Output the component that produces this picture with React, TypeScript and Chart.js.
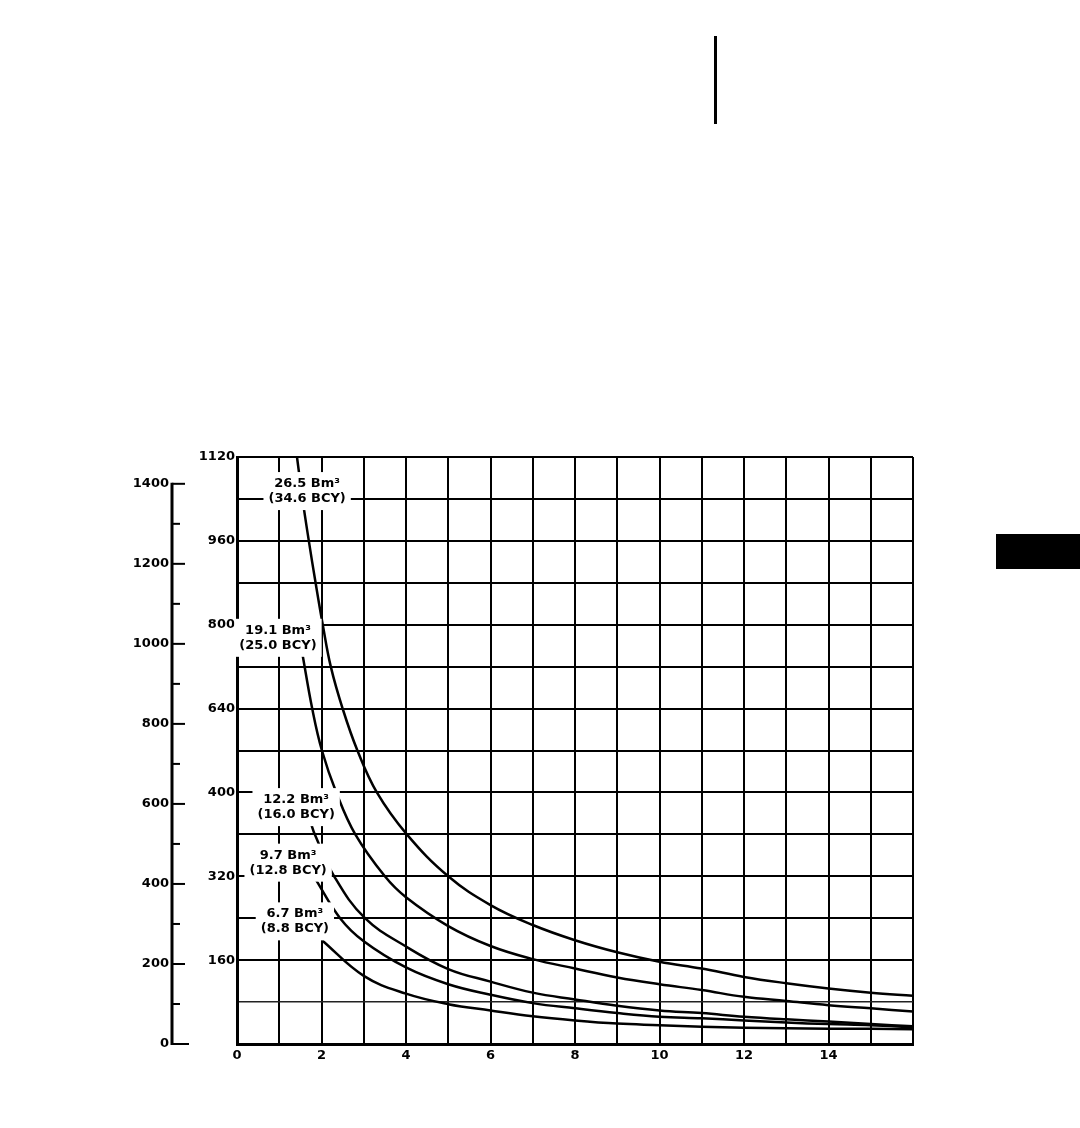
import React, { useEffect, useRef } from "react";
import { Chart, registerables } from "chart.js";

Chart.register(...registerables);

// ---- data ----
const curveAX = [1.42, 1.55, 1.7, 1.86, 2.03, 2.22, 2.5, 2.85, 3.31, 4.02, 5.0, 6, 7, 8, 9, 10, 11, 12, 13, 14, 15, 16];
const curveAY = [1120, 1040, 960, 880, 800, 720, 640, 560, 480, 400, 320, 265, 227, 198, 175, 157, 144, 128, 116, 106, 98, 92];

const curveBX = [1.54, 1.78, 2.01, 2.35, 2.8, 3.5, 4, 5, 6, 7, 8, 9, 10, 11, 12, 13, 14, 15, 16];
const curveBY = [748, 640, 560, 480, 400, 320, 280, 225, 187, 162, 144, 127, 114, 103, 90, 82, 74, 68, 62];

const curveCX = [1.75, 1.84, 2.3, 3.03, 4, 5, 6, 7, 8, 9, 10, 11, 12, 13, 14, 15, 16];
const curveCY = [421, 400, 320, 240, 186, 143, 119, 98, 85, 73, 64, 59, 52, 47, 43, 38, 34];

const curveDX = [1.84, 2.44, 3, 4, 5, 6, 7, 8, 9, 10, 11, 12, 13, 14, 15, 16];
const curveDY = [317, 240, 196, 146, 114, 94, 78, 68, 59, 52, 49, 45, 41, 38, 36, 32];

const curveEX = [2.01, 3, 4, 5, 6, 7, 8, 9, 10, 11, 12, 13, 14, 15, 16];
const curveEY = [198, 130, 96, 76, 64, 53, 45, 39, 36, 33, 31, 30, 29, 29, 28];

const curveLabels = [
  ["26.5 Bm³", "(34.6 BCY)"],
  ["19.1 Bm³", "(25.0 BCY)"],
  ["12.2 Bm³", "(16.0 BCY)"],
  ["9.7 Bm³", "(12.8 BCY)"],
  ["6.7 Bm³", "(8.8 BCY)"],
];
// label anchor positions in data units (x, y)
const labelAnchorX = [1.66, 0.97, 1.4, 1.21, 1.37];
const labelAnchorY = [1055, 775, 452, 346, 234];

const xTickLabelValues = [0, 2, 4, 6, 8, 10, 12, 14];
const innerYTickValues = [160, 320, 480, 640, 800, 960, 1120];
const innerYTickLabels = ["160", "320", "400", "640", "800", "960", "1120"];
const outerYTickValues = [0, 200, 400, 600, 800, 1000, 1200, 1400];

const FONT = "DejaVu Sans";

const toPoints = (xs: number[], ys: number[]) => xs.map((x, i) => ({ x, y: ys[i] }));

const labelPlugin = {
  id: "curveLabels",
  afterDatasetsDraw(chart: any) {
    const ctx = chart.ctx;
    const xs = chart.scales.x;
    const ys = chart.scales.y;
    ctx.save();
    ctx.font = `bold 13px "${FONT}"`;
    ctx.textAlign = "center";
    ctx.textBaseline = "middle";
    curveLabels.forEach((lines, i) => {
      const cx = xs.getPixelForValue(labelAnchorX[i]);
      const cy = ys.getPixelForValue(labelAnchorY[i]);
      const w = Math.max(...lines.map((l) => ctx.measureText(l).width)) + 10;
      const lh = 15;
      const h = lh * lines.length + 8;
      ctx.fillStyle = "#fff";
      ctx.fillRect(cx - w / 2, cy - h / 2, w, h);
      ctx.fillStyle = "#000";
      lines.forEach((l, j) => {
        ctx.fillText(l, cx, cy - ((lines.length - 1) * lh) / 2 + j * lh);
      });
    });
    ctx.restore();
  },
};

const outerAxisPlugin = {
  id: "outerAxis",
  afterDraw(chart: any) {
    const s = chart.scales.y2;
    const ctx = chart.ctx;
    const ax = s.right;
    ctx.save();
    ctx.strokeStyle = "#000";
    ctx.lineWidth = 3;
    ctx.beginPath();
    ctx.moveTo(ax, s.getPixelForValue(0) + 1);
    ctx.lineTo(ax, s.getPixelForValue(1400) - 1);
    ctx.stroke();
    ctx.lineWidth = 2;
    for (let v = 0; v <= 1400; v += 100) {
      const y = s.getPixelForValue(v);
      const len = v === 0 ? 17 : v % 200 === 0 ? 13 : 8;
      ctx.beginPath();
      ctx.moveTo(ax, y);
      ctx.lineTo(ax + len, y);
      ctx.stroke();
    }
    ctx.restore();
  },
};

export default function App() {
  const ref = useRef<HTMLCanvasElement | null>(null);

  useEffect(() => {
    if (!ref.current) return;
    const mk = (xs: number[], ys: number[]) => ({
      data: toPoints(xs, ys),
      borderColor: "#000",
      borderWidth: 2.5,
      pointRadius: 0,
      fill: false,
      tension: 0.4,
    });
    const chart = new Chart(ref.current, {
      type: "line",
      data: {
        datasets: [
          mk(curveAX, curveAY),
          mk(curveBX, curveBY),
          mk(curveCX, curveCY),
          mk(curveDX, curveDY),
          mk(curveEX, curveEY),
        ],
      },
      options: {
        responsive: false,
        animation: false,
        parsing: false,
        layout: { padding: { left: 112, top: 457, right: 167, bottom: 54 } },
        plugins: { legend: { display: false }, tooltip: { enabled: false } },
        scales: {
          x: {
            type: "linear",
            min: 0,
            max: 16,
            grid: { color: "#000", lineWidth: 2, drawTicks: false },
            border: { color: "#000", width: 3 },
            ticks: {
              stepSize: 1,
              autoSkip: false,
              maxRotation: 0,
              padding: 4,
              color: "#000",
              font: { family: FONT, weight: "bold", size: 13 },
              callback: (v: any) => (xTickLabelValues.includes(Number(v)) ? String(v) : ""),
            },
            afterFit: (s: any) => {
              s.height = 30;
            },
          },
          y: {
            type: "linear",
            position: "left",
            weight: 0,
            min: 0,
            max: 1120,
            grid: {
              color: (c: any) => (c.tick && c.tick.value === 80 ? "#222" : "#000"),
              lineWidth: (c: any) => (c.tick && c.tick.value === 80 ? 1.5 : 2),
              drawTicks: false,
            },
            border: { color: "#000", width: 3 },
            ticks: {
              stepSize: 80,
              autoSkip: false,
              padding: 2,
              color: "#000",
              font: { family: FONT, weight: "bold", size: 13 },
              callback: (v: any) => {
                const i = innerYTickValues.indexOf(Number(v));
                return i >= 0 ? innerYTickLabels[i] : "";
              },
            },
            afterFit: (s: any) => {
              s.width = 65;
            },
          },
          y2: {
            type: "linear",
            position: "left",
            weight: 1,
            min: 0,
            max: 1467,
            grid: { display: false, drawTicks: false },
            border: { display: false },
            ticks: {
              stepSize: 100,
              autoSkip: false,
              padding: 3,
              color: "#000",
              font: { family: FONT, weight: "bold", size: 13 },
              callback: (v: any) => (outerYTickValues.includes(Number(v)) ? String(v) : ""),
            },
            afterFit: (s: any) => {
              s.width = 60;
            },
          },
        },
      } as any,
      plugins: [labelPlugin, outerAxisPlugin],
    });
    return () => chart.destroy();
  }, []);

  return (
    <div style={{ position: "absolute", left: 0, top: 0, width: 1080, height: 1128, background: "#fff" }}>
      <canvas ref={ref} width={1080} height={1128} style={{ display: "block" }} />
      <div style={{ position: "absolute", left: 714, top: 36, width: 3, height: 88, background: "#000" }} />
      <div style={{ position: "absolute", left: 996, top: 534, width: 84, height: 35, background: "#000" }} />
    </div>
  );
}
